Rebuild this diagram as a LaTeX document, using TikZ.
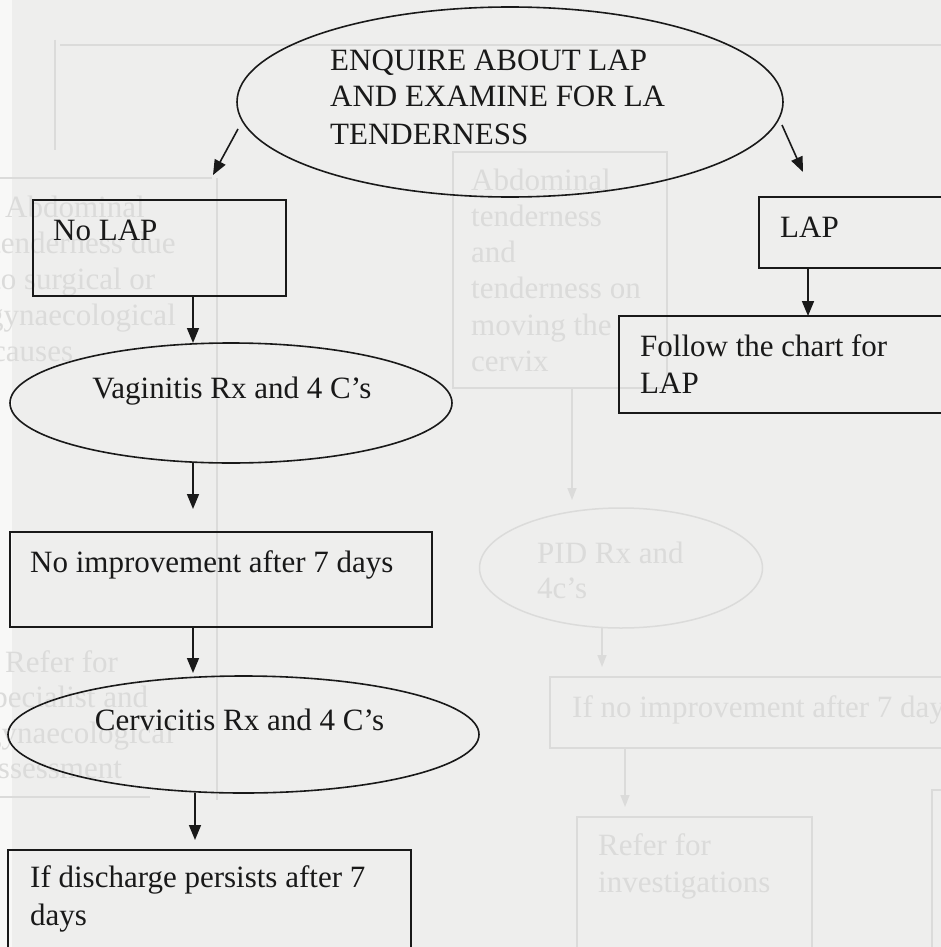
\documentclass[tikz,border=0pt]{standalone}
\usepackage{fontspec}
\setmainfont{Liberation Serif}
\usetikzlibrary{shapes.geometric,arrows.meta}
\definecolor{paper}{RGB}{238,238,237}
\definecolor{ink}{RGB}{25,25,25}
\definecolor{ghost}{RGB}{219,219,218}
\tikzset{
  box/.style={draw=ink, line width=1.6pt, inner sep=0pt, outer sep=0pt, anchor=north west},
  oval/.style={draw=ink, line width=1.6pt, ellipse, inner sep=0pt, outer sep=0pt},
  txt/.style={text=ink, inner sep=0pt, font=\fontsize{31}{36}\selectfont},
  arr/.style={draw=ink, line width=1.6pt, -{Triangle[length=15pt,width=12pt]}},
  gbox/.style={draw=ghost, line width=1.5pt, inner sep=0pt, outer sep=0pt, anchor=north west},
  goval/.style={draw=ghost, line width=1.5pt, ellipse, inner sep=0pt, outer sep=0pt},
  gtxt/.style={text=ghost, inner sep=0pt, font=\fontsize{31}{36}\selectfont, anchor=base west},
  garr/.style={draw=ghost, line width=1.5pt, -{Triangle[length=12pt,width=9pt]}},
  gline/.style={draw=ghost, line width=1.5pt}
}
\begin{document}
\begin{tikzpicture}[x=1pt,y=-1pt]
\useasboundingbox (0,0) rectangle (941,947);
\clip (0,0) rectangle (941,947);
\fill[paper] (0,0) rectangle (941,947);
\fill[white, opacity=0.6] (0,0) rectangle (12,947);

% ---------- ghost (show-through) content ----------
\draw[gline] (60,45) -- (941,45);
\draw[gline] (55,40) -- (55,150);
\draw[gline] (0,178) -- (212,178);
\draw[gline] (217,178) -- (217,800);
\draw[gline] (0,797) -- (150,797);
\node[gtxt] (g1) at (5,217) {Abdominal};
\node[gtxt] (g2) at (-8,253) {tenderness due};
\node[gtxt] (g3) at (-8,289) {to surgical or};
\node[gtxt] (g4) at (-12,325) {gynaecological};
\node[gtxt] (g5) at (-8,361) {causes};
\node[gtxt] (g6) at (5,672) {Refer for};
\node[gtxt] (g7) at (-20,707) {specialist and};
\node[gtxt] (g8) at (-14,743) {gynaecological};
\node[gtxt] (g9) at (-16,778) {assessment};

\node[gbox, minimum width=214pt, minimum height=236pt] (gab) at (453,152) {};
\node[gtxt] (ga1) at (471,190) {Abdominal};
\node[gtxt] (ga2) at (471,226) {tenderness};
\node[gtxt] (ga3) at (471,262) {and};
\node[gtxt] (ga4) at (471,298) {tenderness on};
\node[gtxt] (ga5) at (471,335) {moving the};
\node[gtxt] (ga6) at (471,371) {cervix};

\node[goval, minimum width=283pt, minimum height=120pt] (gpid) at (621,568) {};
\node[gtxt] (gp1) at (537,563) {PID Rx and};
\node[gtxt] (gp2) at (537,598) {4c's};

\node[gbox, minimum width=420pt, minimum height=71pt] (gno) at (550,677) {};
\node[gtxt] (gn1) at (572,717) {If no improvement after 7 days};

\node[gbox, minimum width=235pt, minimum height=160pt] (gref) at (577,817) {};
\node[gtxt] (gr1) at (598,855) {Refer for};
\node[gtxt] (gr2) at (598,892) {investigations};
\node[gbox, minimum width=40pt, minimum height=200pt] (gright) at (932,790) {};

\coordinate (gx1) at (572,0);
\coordinate (gx2) at (602,0);
\coordinate (gx3) at (625,0);
\draw[garr] (gab.south -| gx1) -- ([yshift=8pt]gpid.north -| gx1);
\draw[garr] (gpid.south -| gx2) -- ([yshift=10pt]gno.north -| gx2);
\draw[garr] (gno.south -| gx3) -- ([yshift=10pt]gref.north -| gx3);

% ---------- main flowchart ----------
\node[oval, minimum width=546pt, minimum height=190pt] (enq) at (510,102) {};
\node[txt, anchor=base west] (e1) at (330,71) {ENQUIRE ABOUT LAP};
\node[txt, anchor=base west] (e2) at (330,107) {AND EXAMINE FOR LA};
\node[txt, anchor=base west] (e3) at (330,144) {TENDERNESS};

\node[box, minimum width=253pt, minimum height=96pt] (nolap) at (33,200) {};
\node[txt, anchor=base west] (t1) at (53,240) {No LAP};

\node[oval, minimum width=442pt, minimum height=120pt] (vag) at (231,403) {};
\node[txt, anchor=base] (t2) at (232,398) {Vaginitis Rx and 4 C’s};

\node[box, minimum width=422pt, minimum height=95pt] (noimp) at (10,532) {};
\node[txt, anchor=base west] (t3) at (30,572) {No improvement after 7 days};

\node[oval, minimum width=471pt, minimum height=117pt] (cerv) at (243.5,734.5) {};
\node[txt, anchor=base] (t4) at (239.5,730) {Cervicitis Rx and 4 C’s};

\node[box, minimum width=403pt, minimum height=150pt] (disc) at (8,850) {};
\node[txt, anchor=base west] (t5) at (30,887) {If discharge persists after 7};
\node[txt, anchor=base west] (t6) at (30,925) {days};

\node[box, minimum width=220pt, minimum height=71pt] (lap) at (759,197) {};
\node[txt, anchor=base west] (t7) at (780,237) {LAP};

\node[box, minimum width=360pt, minimum height=97pt] (follow) at (619,316) {};
\node[txt, anchor=base west] (t8) at (640,356) {Follow the chart for};
\node[txt, anchor=base west] (t9) at (640,393) {LAP};

% connectors
\coordinate (lt) at (213,175);
\coordinate (rt) at (803,172);
\coordinate (xa) at (193,0);
\coordinate (xb) at (195,0);
\coordinate (xr) at (808,0);
\draw[arr] ([yshift=-27pt,xshift=1pt]enq.west) -- (lt);
\draw[arr] ([yshift=-23pt,xshift=-1pt]enq.east) -- (rt);
\draw[arr] (lap.south -| xr) -- (follow.north -| xr);
\draw[arr] (nolap.south -| xa) -- (vag.north -| xa);
\draw[arr] (vag.south -| xa) -- ([yshift=23pt]noimp.north -| xa);
\draw[arr] (noimp.south -| xa) -- ([yshift=3pt]cerv.north -| xa);
\draw[arr] (cerv.south -| xb) -- ([yshift=10pt]disc.north -| xb);
\end{tikzpicture}
\end{document}
